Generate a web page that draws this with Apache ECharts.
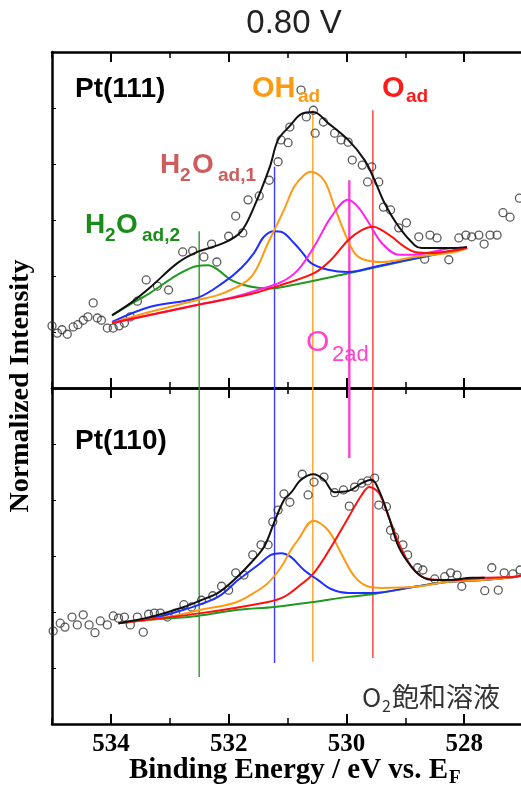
<!DOCTYPE html>
<html>
<head>
<meta charset="utf-8">
<script src="https://cdn.jsdelivr.net/npm/echarts@6/dist/echarts.min.js"></script>
<style>
  html, body { margin: 0; padding: 0; background: #fff; }
  #chart { width: 521px; height: 790px; }
</style>
</head>
<body>
<div id="chart"></div>
<script>
// O 1s XPS spectra at 0.80 V, Pt(111) (upper) and Pt(110) (lower).
// Energies in eV, intensities in normalized units (0–6 per panel).

const xTicks = [528, 530, 532, 534];

// ---- Pt(111) ----
const topScatter = [
  [535.00,1.11],[534.91,0.98],[534.83,1.04],[534.74,0.96],[534.64,1.09],[534.56,1.13],
  [534.47,1.21],[534.39,1.27],[534.30,1.52],[534.23,1.25],[534.16,1.21],[534.06,1.07],
  [533.96,1.07],[533.86,1.11],[533.77,1.16],[533.67,1.27],[533.55,1.55],[533.40,1.93],
  [533.21,1.82],[533.02,1.75],[532.78,2.43],[532.61,2.45],[532.42,2.34],[532.29,2.57],
  [532.20,2.25],[532.00,2.71],[531.88,3.07],[531.76,2.77],[531.67,3.36],[531.48,3.43],
  [531.31,3.71],[531.16,4.04],[531.11,4.43],[530.99,4.38],[530.96,4.66],[530.77,5.32],
  [530.68,4.84],[530.56,4.96],[530.53,4.55],[530.39,4.75],[530.20,4.55],[530.09,4.43],
  [529.97,4.39],[529.90,4.07],[529.73,3.98],[529.57,3.95],[529.64,3.68],[529.45,3.68],
  [529.37,3.23],[529.25,3.18],[529.11,2.86],[528.98,2.95],[528.77,2.70],[528.58,2.73],
  [528.46,2.68],[528.67,2.30],[528.26,2.29],[528.09,2.68],[527.97,2.73],[527.87,2.70],
  [527.75,2.73],[527.66,2.57],[527.56,2.73],[527.44,2.73],[527.34,3.13],[527.22,3.05],
  [527.06,3.39]
];
const topH2O2 = [
  [533.98,1.29],[533.66,1.50],[533.33,1.70],[532.87,2.02],[532.53,2.18],[532.35,2.19],
  [532.18,2.11],[531.96,1.93],[531.74,1.84],[531.50,1.79],[531.28,1.78],[531.00,1.82],
  [530.00,2.04],[529.00,2.27],[527.95,2.50]
];
const topH2O1 = [
  [533.98,1.18],[533.33,1.45],[532.53,1.61],[532.08,1.89],[531.79,2.14],[531.57,2.41],
  [531.40,2.70],[531.23,2.80],[531.11,2.79],[530.89,2.59],[530.72,2.38],[530.60,2.23],
  [530.31,2.11],[529.97,2.07],[529.50,2.17],[529.00,2.28],[528.50,2.39],[527.95,2.50]
];
const topOH = [
  [533.98,1.16],[533.33,1.36],[532.53,1.57],[532.08,1.70],[531.62,1.98],[531.33,2.59],
  [531.06,3.18],[530.89,3.59],[530.72,3.80],[530.60,3.86],[530.38,3.71],[530.20,3.23],
  [530.03,2.77],[529.86,2.41],[529.69,2.29],[529.40,2.25],[528.84,2.34],[528.16,2.43],
  [527.95,2.50]
];
const topO2 = [
  [533.98,1.16],[532.50,1.49],[531.96,1.61],[531.57,1.73],[531.11,1.89],[530.82,2.11],
  [530.55,2.52],[530.26,3.05],[529.97,3.36],[529.80,3.23],[529.62,2.95],[529.40,2.59],
  [529.11,2.38],[528.84,2.38],[528.55,2.43],[528.16,2.50],[527.95,2.50]
];
const topO = [
  [533.98,1.16],[532.50,1.49],[531.62,1.68],[531.11,1.84],[530.55,2.05],[530.26,2.29],
  [529.97,2.64],[529.74,2.82],[529.54,2.88],[529.40,2.82],[529.23,2.70],[529.01,2.52],
  [528.84,2.43],[528.55,2.41],[528.16,2.46],[527.95,2.50]
];
const topFit = [
  [533.98,1.30],[533.66,1.52],[533.33,1.80],[532.87,2.23],[532.53,2.43],[532.08,2.59],
  [531.79,2.79],[531.57,3.23],[531.30,3.95],[531.16,4.43],[530.96,4.68],[530.77,4.89],
  [530.56,4.93],[530.31,4.73],[529.97,4.43],[529.69,4.07],[529.52,3.71],[529.35,3.30],
  [529.11,2.88],[528.84,2.55],[528.72,2.50],[528.16,2.50],[527.95,2.52]
];

// ---- Pt(110) ----
const bottomScatter = [
  [534.98,1.66],[534.86,1.80],[534.78,1.73],[534.66,1.91],[534.57,1.77],[534.47,1.95],
  [534.37,1.77],[534.27,1.63],[534.18,1.84],[534.06,1.77],[533.96,1.93],[533.87,1.89],
  [533.77,1.91],[533.67,1.77],[533.55,1.91],[533.45,1.64],[533.36,1.96],[533.26,1.98],
  [533.16,1.98],[533.04,1.91],[532.90,1.98],[532.76,2.13],[532.63,2.09],[532.46,2.21],
  [532.27,2.29],[532.12,2.46],[532.00,2.39],[531.88,2.70],[531.74,2.66],[531.59,3.02],
  [531.45,3.20],[531.33,3.20],[531.25,3.61],[531.16,3.82],[531.06,4.11],[530.96,3.96],
  [530.75,4.46],[530.65,4.09],[530.55,4.32],[530.38,4.41],[530.20,4.13],[530.05,4.18],
  [529.95,3.89],[529.86,4.23],[529.74,4.30],[529.64,4.34],[529.52,4.39],[529.45,3.91],
  [529.32,3.88],[529.25,3.46],[529.18,3.34],[529.04,3.20],[528.96,3.02],[528.79,2.79],
  [528.70,2.75],[528.50,2.59],[528.33,2.63],[528.23,2.70],[528.12,2.66],[528.04,2.46],
  [527.65,2.38],[527.53,2.79],[527.42,2.39],[527.32,2.70],[527.17,2.68],[527.05,2.75]
];
const bottomBaseline = [
  [533.87,1.80],[533.33,1.86],[532.53,1.93],[531.84,2.04],[531.22,2.09],[530.55,2.18],
  [529.97,2.27],[529.54,2.32],[528.84,2.45],[528.26,2.54],[527.70,2.57],[527.13,2.63],
  [527.00,2.66]
];
const bottomH2O1 = [
  [533.87,1.80],[533.33,1.88],[532.76,2.04],[532.18,2.27],[531.84,2.57],[531.50,2.84],
  [531.28,3.02],[531.11,3.05],[530.94,2.98],[530.72,2.75],[530.48,2.57],[530.26,2.41],
  [529.97,2.34],[529.57,2.34],[528.84,2.45],[528.26,2.54],[527.70,2.57],[527.13,2.63],
  [527.00,2.66]
];
const bottomOH = [
  [533.87,1.80],[533.04,1.91],[532.47,2.04],[531.91,2.16],[531.57,2.34],[531.33,2.52],
  [531.11,2.80],[530.94,3.11],[530.82,3.29],[530.56,3.63],[530.31,3.46],[530.09,3.05],
  [529.86,2.63],[529.62,2.45],[529.40,2.43],[528.84,2.45],[528.26,2.54],[527.70,2.57],
  [527.13,2.63],[527.00,2.66]
];
const bottomO = [
  [533.87,1.80],[532.47,1.98],[531.33,2.18],[531.06,2.27],[530.82,2.45],[530.55,2.70],
  [530.26,3.16],[529.97,3.68],[529.74,4.09],[529.61,4.23],[529.45,4.13],[529.28,3.70],
  [529.11,3.23],[528.89,2.80],[528.67,2.61],[528.26,2.57],[527.70,2.61],[527.13,2.63],
  [527.00,2.66]
];
const bottomFit = [
  [533.87,1.80],[533.33,1.91],[532.76,2.09],[532.47,2.21],[532.18,2.34],[531.91,2.57],
  [531.62,2.88],[531.40,3.16],[531.23,3.59],[531.06,4.00],[530.94,4.13],[530.77,4.36],
  [530.56,4.46],[530.38,4.36],[530.20,4.14],[529.97,4.16],[529.74,4.30],[529.57,4.36],
  [529.45,4.18],[529.28,3.70],[529.11,3.16],[528.89,2.80],[528.72,2.63],[528.55,2.57],
  [528.26,2.57],[527.87,2.61],[527.65,2.61]
];

// Peak positions (H2O ad,2 / H2O ad,1 / OH ad / O2 ad / O ad) and guide-line extents
const peakEnergies   = [532.50, 531.22, 530.57, 529.95, 529.55];
const guideTopFrom   = [2.80, 3.95, 4.96, 3.71, 4.96];   // upper panel: from here down to 0
const guideBottomTo  = [0.84, 1.09, 1.11, 4.75, 1.18];   // lower panel: from 6 down to here

// ---- styling ----
const C = {
  green: '#1f9a1f', blue: '#1f2fff', orange: '#ff9a10', magenta: '#ff22ee', red: '#ff1010',
  fit: '#111'
};
const guideColors = ['#2e9a2e', '#3a3aff', '#ffa020', '#ff40cc', '#ff3a3a'];
const guideWidths = [1.4, 1.4, 1.4, 2.4, 1.4];

// The plot runs off the right edge of the page, so 527 eV sits just past it.
const GRID_LEFT = 52, GRID_W = 471, GRID_H = 336;
const grids = [
  { left: GRID_LEFT, top: 52, width: GRID_W, height: GRID_H, outerBoundsMode: 'none' },
  { left: GRID_LEFT, top: 388, width: GRID_W, height: GRID_H, outerBoundsMode: 'none' }
];

function xAxes(gridIndex, pos, major, withLabels) {
  const base = {
    type: 'value', gridIndex, position: pos, min: 527, max: 535, inverse: true,
    splitLine: { show: false }
  };
  if (major) {
    return Object.assign(base, {
      axisLine: { show: true, onZero: false, lineStyle: { color: '#000', width: 2.5 } },
      axisTick: { show: true, inside: true, length: 10, customValues: xTicks,
                  lineStyle: { color: '#000', width: 2 } },
      axisLabel: withLabels ? {
        show: true, customValues: xTicks, margin: 8, color: '#000',
        fontFamily: 'Liberation Serif', fontWeight: 'bold', fontSize: 25
      } : { show: false }
    });
  }
  return Object.assign(base, {
    interval: 1,
    axisLine: { show: false },
    axisTick: { show: true, inside: true, length: 6, lineStyle: { color: '#000', width: 1.5 } },
    axisLabel: { show: false }
  });
}

const xAxis = [
  xAxes(0, 'bottom', true, false), xAxes(0, 'bottom', false), xAxes(0, 'top', true, false), xAxes(0, 'top', false),
  xAxes(1, 'bottom', true, true), xAxes(1, 'bottom', false), xAxes(1, 'top', true, false), xAxes(1, 'top', false)
];

const yAxis = [0, 1].map(g => ({
  type: 'value', gridIndex: g, min: 0, max: 6, interval: 1,
  axisLine: { show: true, onZero: false, lineStyle: { color: '#000', width: 2.5 } },
  axisTick: { show: true, inside: true, length: 4, lineStyle: { color: '#000', width: 1 } },
  axisLabel: { show: false },
  splitLine: { show: false }
}));

function curve(data, color, panel, z, width) {
  return {
    type: 'line', data, xAxisIndex: panel === 0 ? 0 : 4, yAxisIndex: panel,
    symbol: 'none', smooth: 0.35, silent: true, z: z || 3,
    lineStyle: { color, width: width || 2 }
  };
}

function dots(data, panel) {
  return {
    type: 'scatter', data, xAxisIndex: panel === 0 ? 0 : 4, yAxisIndex: panel,
    symbol: 'circle', symbolSize: 8, silent: true, z: 2,
    itemStyle: { color: 'rgba(255,255,255,0)', borderColor: '#333', borderWidth: 1.3 }
  };
}

const guides = [];
peakEnergies.forEach((e, i) => {
  const ls = { color: guideColors[i], width: guideWidths[i] };
  guides.push({ type: 'line', xAxisIndex: 0, yAxisIndex: 0, symbol: 'none', silent: true, z: 1,
    data: [[e, guideTopFrom[i]], [e, 0]], lineStyle: ls });
  guides.push({ type: 'line', xAxisIndex: 4, yAxisIndex: 1, symbol: 'none', silent: true, z: 1,
    data: [[e, 6], [e, guideBottomTo[i]]], lineStyle: ls });
});

const series = [
  ...guides,
  dots(topScatter, 0),
  curve(topH2O2, C.green, 0),
  curve(topH2O1, C.blue, 0),
  curve(topOH, C.orange, 0),
  curve(topO2, C.magenta, 0),
  curve(topO, C.red, 0),
  curve(topFit, C.fit, 0, 4),
  dots(bottomScatter, 1),
  curve(bottomBaseline, C.green, 1),
  curve(bottomH2O1, C.blue, 1),
  curve(bottomOH, C.orange, 1),
  curve(bottomO, C.red, 1),
  curve(bottomFit, C.fit, 1, 4)
];

// ---- text labels ----
const SANS = 'Liberation Sans';
const SERIF = 'Liberation Serif';
function t(x, y, text, size, color, opt) {
  opt = opt || {};
  return {
    type: 'text', x, y, rotation: opt.rotation || 0, silent: true, z: 100,
    style: {
      text, fill: color, fontSize: size, fontFamily: opt.family || SANS,
      fontWeight: opt.weight || 'bold', align: opt.align || 'left', verticalAlign: 'middle'
    }
  };
}

const graphic = [
  t(294, 24, '0.80 V', 33, '#222', { weight: 'normal', align: 'center' }),
  t(75, 89, 'Pt(111)', 28, '#000'),
  t(75, 441, 'Pt(110)', 28, '#000'),
  // OH ad
  t(252, 89, 'OH', 29, '#ff9a10'),
  t(298, 97, 'ad', 19, '#ff9a10'),
  // O ad
  t(382, 89, 'O', 29, '#ff1a1a'),
  t(406, 97, 'ad', 19, '#ff1a1a'),
  // H2O ad,1
  t(160, 165, 'H', 28, '#cd5c5c'),
  t(180, 176, '2', 19, '#cd5c5c'),
  t(192, 165, 'O', 28, '#cd5c5c'),
  t(218, 176, 'ad,1', 19, '#cd5c5c'),
  // H2O ad,2
  t(85, 225, 'H', 28, '#1a8c1a'),
  t(105, 236, '2', 19, '#1a8c1a'),
  t(116, 225, 'O', 28, '#1a8c1a'),
  t(142, 236, 'ad,2', 19, '#1a8c1a'),
  // O2 ad
  t(306, 343, 'O', 30, '#ff44cc', { weight: 'normal' }),
  t(332, 355, '2ad', 22, '#ff44cc', { weight: 'normal' }),
  // O2-saturated solution
  t(362, 697, 'O', 26, '#333', { weight: 'normal', family: 'Noto Sans CJK JP' }),
  t(382, 706, '2', 16, '#333', { weight: 'normal', family: 'Noto Sans CJK JP' }),
  t(392, 697, '飽和溶液', 27, '#333', { weight: 'normal', family: 'Noto Sans CJK JP' }),
  // axis titles
  t(448, 771, 'Binding Energy / eV vs. E', 29, '#000', { family: SERIF, align: 'right' }),
  t(449, 778, 'F', 19, '#000', { family: SERIF }),
  t(21, 386, 'Normalized Intensity', 28, '#000', { family: SERIF, align: 'center', rotation: Math.PI / 2 })
];

const chart = echarts.init(document.getElementById('chart'), null, { renderer: 'canvas' });
chart.setOption({
  animation: false,
  backgroundColor: '#fff',
  grid: grids,
  xAxis, yAxis, series, graphic
});
</script>
</body>
</html>
